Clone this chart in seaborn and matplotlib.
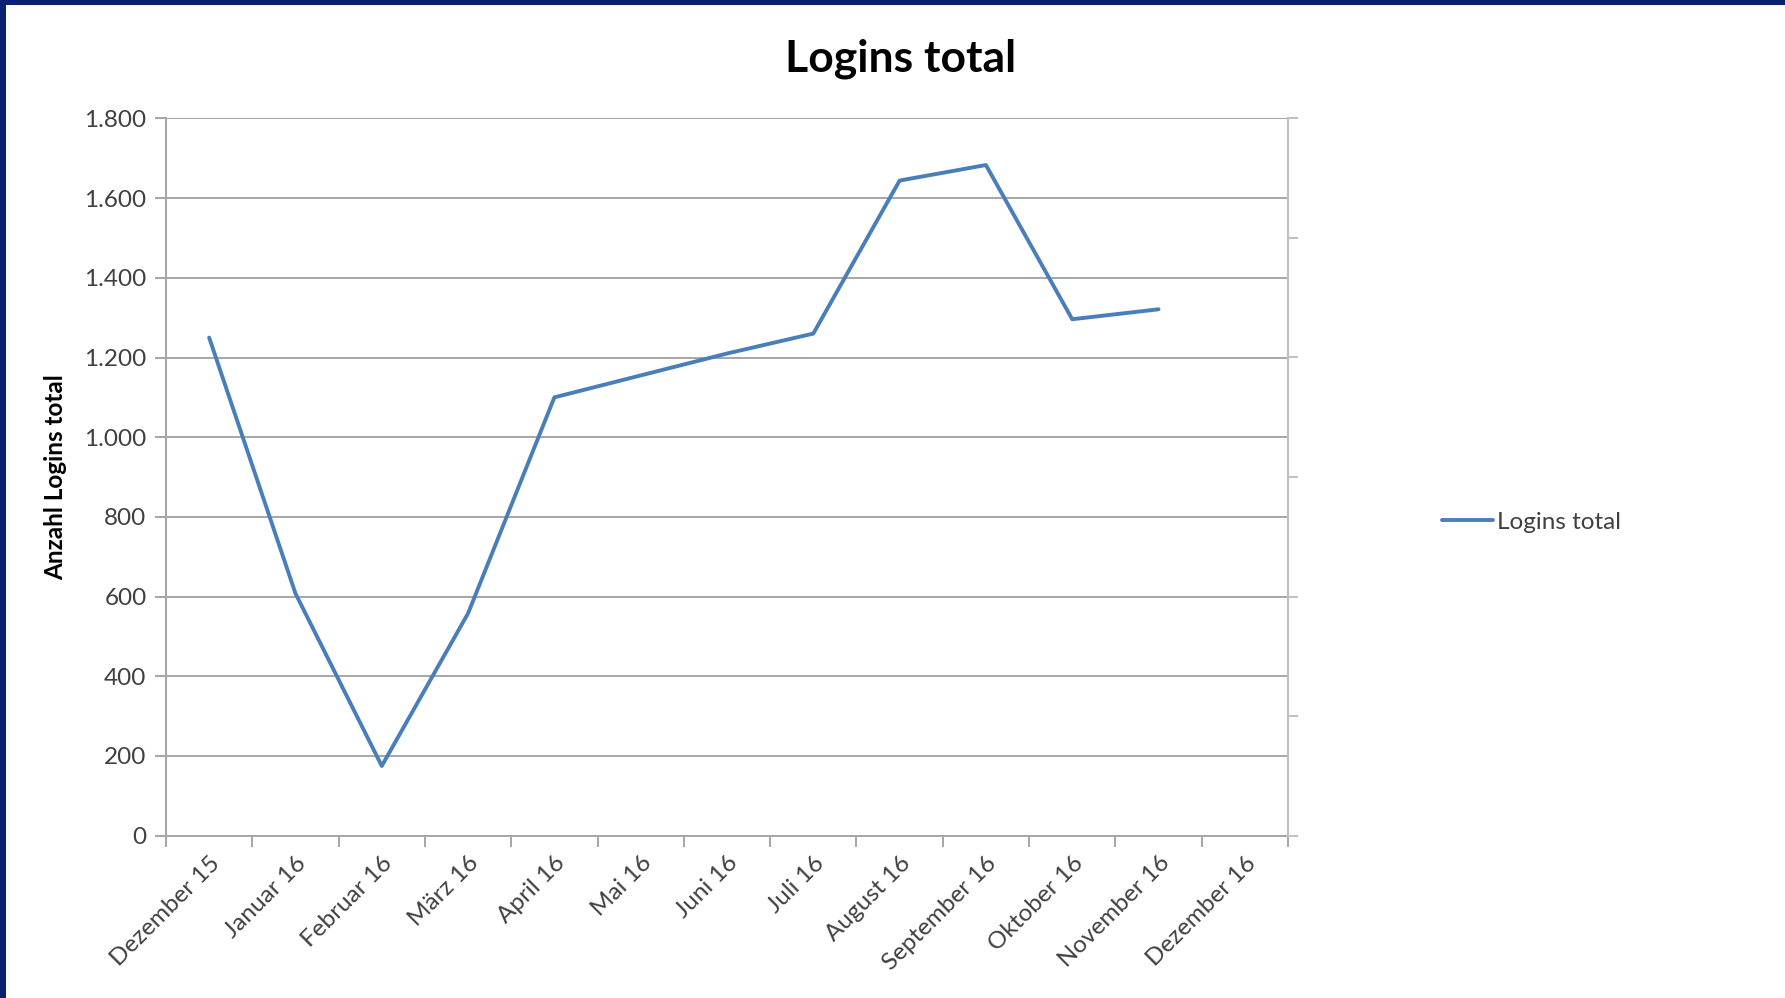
import numpy as np
import pandas as pd
import matplotlib
matplotlib.use("Agg")
import matplotlib.pyplot as plt
import matplotlib.patches as mpatches
import seaborn as sns

months = ["Dezember 15", "Januar 16", "Februar 16", "März 16", "April 16", "Mai 16",
          "Juni 16", "Juli 16", "August 16", "September 16", "Oktober 16",
          "November 16", "Dezember 16"]
logins = [1250, 608, 175, 558, 1100, 1155, 1210, 1260, 1644, 1683, 1296, 1321, np.nan]
y_ticks = [0, 200, 400, 600, 800, 1000, 1200, 1400, 1600, 1800]
y_tick_labels = ["0", "200", "400", "600", "800", "1.000", "1.200", "1.400", "1.600", "1.800"]

sns.set_theme(style="white")
plt.rcParams['font.family'] = ['Lato', 'DejaVu Sans']

W, H = 1785, 998
fig = plt.figure(figsize=(W / 100, H / 100), dpi=100)
fig.patch.set_facecolor("white")

left, right, top, bottom = 166, 1288, 118.4, 835.7
ax = fig.add_axes([left / W, 1 - bottom / H, (right - left) / W, (bottom - top) / H])

df = pd.DataFrame({"pos": np.arange(len(months)), "Logins total": logins})
sns.lineplot(data=df, x="pos", y="Logins total", ax=ax, color="#4a7ebb",
             linewidth=2.8, label="Logins total", legend=False)

ax.set_xlim(-0.5, len(months) - 0.5)
ax.set_ylim(0, 1800)
grid_c = "#a6a6a6"
ax.set_yticks(y_ticks)
ax.set_yticklabels(y_tick_labels, fontsize=17.5, color="#404040")
ax.yaxis.grid(True, color=grid_c, linewidth=1.4)
ax.xaxis.grid(False)

ax.set_xticks(np.arange(-0.5, len(months), 1.0))
ax.set_xticklabels([])
ax.set_xticks(np.arange(len(months)), minor=True)
ax.set_xticklabels(months, minor=True, rotation=45, ha="right",
                   rotation_mode="anchor", fontsize=17.5, color="#404040")
ax.tick_params(axis="x", which="major", length=8, width=1.4, color=grid_c, direction="out", bottom=True)
ax.tick_params(axis="x", which="minor", length=0, pad=12, bottom=True)
ax.tick_params(axis="y", which="major", length=8, width=1.4, color=grid_c, direction="out", left=True, pad=6)

for s in ["left", "bottom"]:
    ax.spines[s].set_color(grid_c)
    ax.spines[s].set_linewidth(1.4)
ax.spines["top"].set_visible(False)
ax.spines["right"].set_visible(False)

ax.set_xlabel("")
ax.set_ylabel("Anzahl Logins total", fontsize=17.5, fontweight="bold", color="black", labelpad=12)

ax2 = ax.twinx()
ax2.set_ylim(0, 1800)
ax2.set_yticks(np.arange(0, 1801, 300))
ax2.set_yticklabels([])
ax2.tick_params(axis="y", right=True, length=7, width=1.4, color="#c0c0c0", direction="out")
ax2.spines["right"].set_color("#c0c0c0")
ax2.spines["right"].set_linewidth(1.6)
for s in ["left", "top", "bottom"]:
    ax2.spines[s].set_visible(False)
ax2.grid(False)

fig.text(901 / W, 1 - 59 / H, "Logins total", ha="center", va="center",
         fontsize=32, fontweight="bold", color="black")

leg = ax.legend(loc="center left", bbox_to_anchor=(1420 / W, 1 - 522 / H),
                bbox_transform=fig.transFigure, frameon=False, fontsize=17.5,
                handlelength=2.1, handletextpad=0.15)
for t in leg.get_texts():
    t.set_color("#404040")

navy = "#0b2170"
fig.patches.append(mpatches.Rectangle((0, 1 - 5 / H), 1, 5 / H, transform=fig.transFigure,
                                      facecolor=navy, edgecolor="none", zorder=10))
fig.patches.append(mpatches.Rectangle((0, 0), 6 / W, 1, transform=fig.transFigure,
                                      facecolor=navy, edgecolor="none", zorder=10))

fig.savefig("out.png", dpi=100)
